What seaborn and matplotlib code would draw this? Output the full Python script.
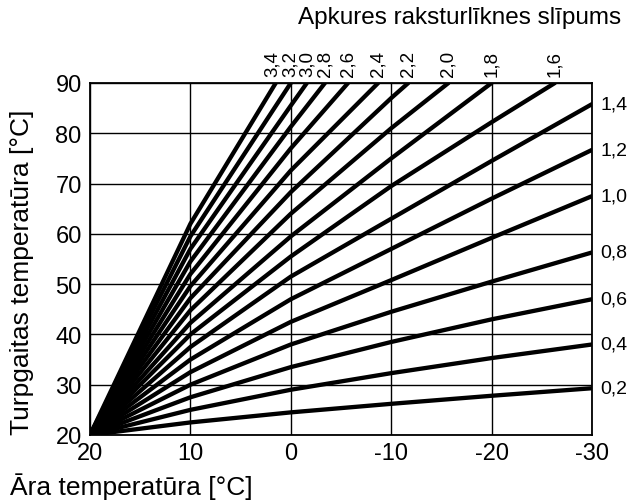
#!/usr/bin/env python3
"""
Heating curve chart - flow temperature vs outdoor temperature
for a set of heating curve slopes (Latvian labels)
"""

import matplotlib
matplotlib.use('Agg')
import matplotlib.pyplot as plt
import pandas as pd
import seaborn as sns

# Heating curve slopes, as printed on the chart
SLOPES = ['0,2', '0,4', '0,6', '0,8', '1,0', '1,2', '1,4', '1,6',
          '1,8', '2,0', '2,2', '2,4', '2,6', '2,8', '3,0', '3,2', '3,4']

# Outdoor temperatures where the curves were read
OUTDOOR = [20, 10, 0, -10, -20, -30]

# Flow temperature read at each OUTDOOR point (curves stop once they reach 90)
FLOW = {
    '0,2': [20, 22.5, 24.5, 26.2, 27.8, 29.3],
    '0,4': [20, 25.0, 29.0, 32.3, 35.3, 38.0],
    '0,6': [20, 27.5, 33.5, 38.5, 43.0, 47.0],
    '0,8': [20, 30.0, 38.0, 44.5, 50.5, 56.3],
    '1,0': [20, 32.5, 42.5, 50.8, 59.2, 67.5],
    '1,2': [20, 35.0, 47.0, 57.0, 67.0, 76.7],
    '1,4': [20, 37.5, 51.5, 63.0, 74.5, 85.8],
    '1,6': [20, 40.0, 55.5, 69.5, 82.2],
    '1,8': [20, 42.3, 59.5, 75.0],
    '2,0': [20, 44.8, 64.0, 81.0],
    '2,2': [20, 47.2, 68.3, 87.0],
    '2,4': [20, 49.6, 72.6],
    '2,6': [20, 52.0, 77.0],
    '2,8': [20, 54.5, 81.3],
    '3,0': [20, 57.0, 85.5],
    '3,2': [20, 59.5],
    '3,4': [20, 62.0],
}

# Outdoor temperature where the steep curves leave the top of the chart
TOP_OUTDOOR = {
    '1,6': -26.3, '1,8': -20.0, '2,0': -15.7, '2,2': -11.7, '2,4': -8.7,
    '2,6': -5.7, '2,8': -3.4, '3,0': -1.6, '3,2': 0.0, '3,4': 1.5,
}
TOP_FLOW = 90

X_TICKS = [20, 10, 0, -10, -20, -30]
X_TICK_LABELS = ['20', '10', '0', '-10', '-20', '-30']
Y_TICKS = [20, 30, 40, 50, 60, 70, 80, 90]


def build_frame():
    """Long-form table of all curve points"""
    rows = []
    for slope in SLOPES:
        ys = list(FLOW[slope])
        xs = OUTDOOR[:len(ys)]
        if slope in TOP_OUTDOOR:
            xs = xs + [TOP_OUTDOOR[slope]]
            ys = ys + [TOP_FLOW]
        for x, y in zip(xs, ys):
            rows.append({'slope': slope, 'outdoor': x, 'flow': y})
    return pd.DataFrame(rows)


def main():
    sns.set_theme(style='white')
    plt.rcParams['font.family'] = ['Liberation Sans', 'DejaVu Sans']
    plt.rcParams['text.color'] = 'black'

    df = build_frame()

    fig = plt.figure(figsize=(6.32, 5.02), dpi=100)
    ax = fig.add_axes([90 / 632, 1 - 436 / 502, 502 / 632, 352 / 502])

    sns.lineplot(
        data=df, x='outdoor', y='flow', hue='slope',
        palette=['black'] * len(SLOPES), estimator=None, sort=False,
        legend=False, linewidth=3.1, ax=ax
    )

    ax.set_xlim(20, -30)
    ax.set_ylim(20, 90)
    ax.set_xticks(X_TICKS)
    ax.set_xticklabels(X_TICK_LABELS)
    ax.set_yticks(Y_TICKS)
    ax.tick_params(axis='both', length=0, labelsize=17,
                   colors='black', labelcolor='black')
    ax.tick_params(axis='x', pad=5)
    ax.tick_params(axis='y', pad=6)
    ax.grid(True, color='black', linewidth=1.0)
    ax.set_axisbelow(True)
    for spine in ax.spines.values():
        spine.set_color('black')
        spine.set_linewidth(1.3)
    ax.set_xlabel('')
    ax.set_ylabel('')

    # Slope labels: right edge for the flat curves, top edge for steep ones
    for slope in SLOPES:
        if slope in TOP_OUTDOOR:
            # the steepest label sits a touch left so it clears its neighbour
            dx = -2.5 if slope == SLOPES[-1] else 0
            ax.annotate(slope, xy=(TOP_OUTDOOR[slope], TOP_FLOW),
                        xytext=(dx, 5), textcoords='offset points',
                        rotation=90, ha='center', va='bottom',
                        fontsize=13.5, annotation_clip=False)
        else:
            ax.annotate(slope, xy=(OUTDOOR[-1], FLOW[slope][-1]),
                        xytext=(6, 0), textcoords='offset points',
                        ha='left', va='center',
                        fontsize=14, annotation_clip=False)

    fig.text(460 / 632, 1 - 18 / 502, 'Apkures raksturlīknes slīpums',
             ha='center', va='center', fontsize=17.5)
    fig.text(10 / 632, 1 - 487 / 502, 'Āra temperatūra [°C]',
             ha='left', va='center', fontsize=19)
    fig.text(22 / 632, 1 - 272 / 502, 'Turpgaitas temperatūra [°C]',
             ha='center', va='center', rotation=90, fontsize=19)

    plt.savefig('out.png', dpi=100, facecolor='white')
    plt.close()


if __name__ == '__main__':
    main()
